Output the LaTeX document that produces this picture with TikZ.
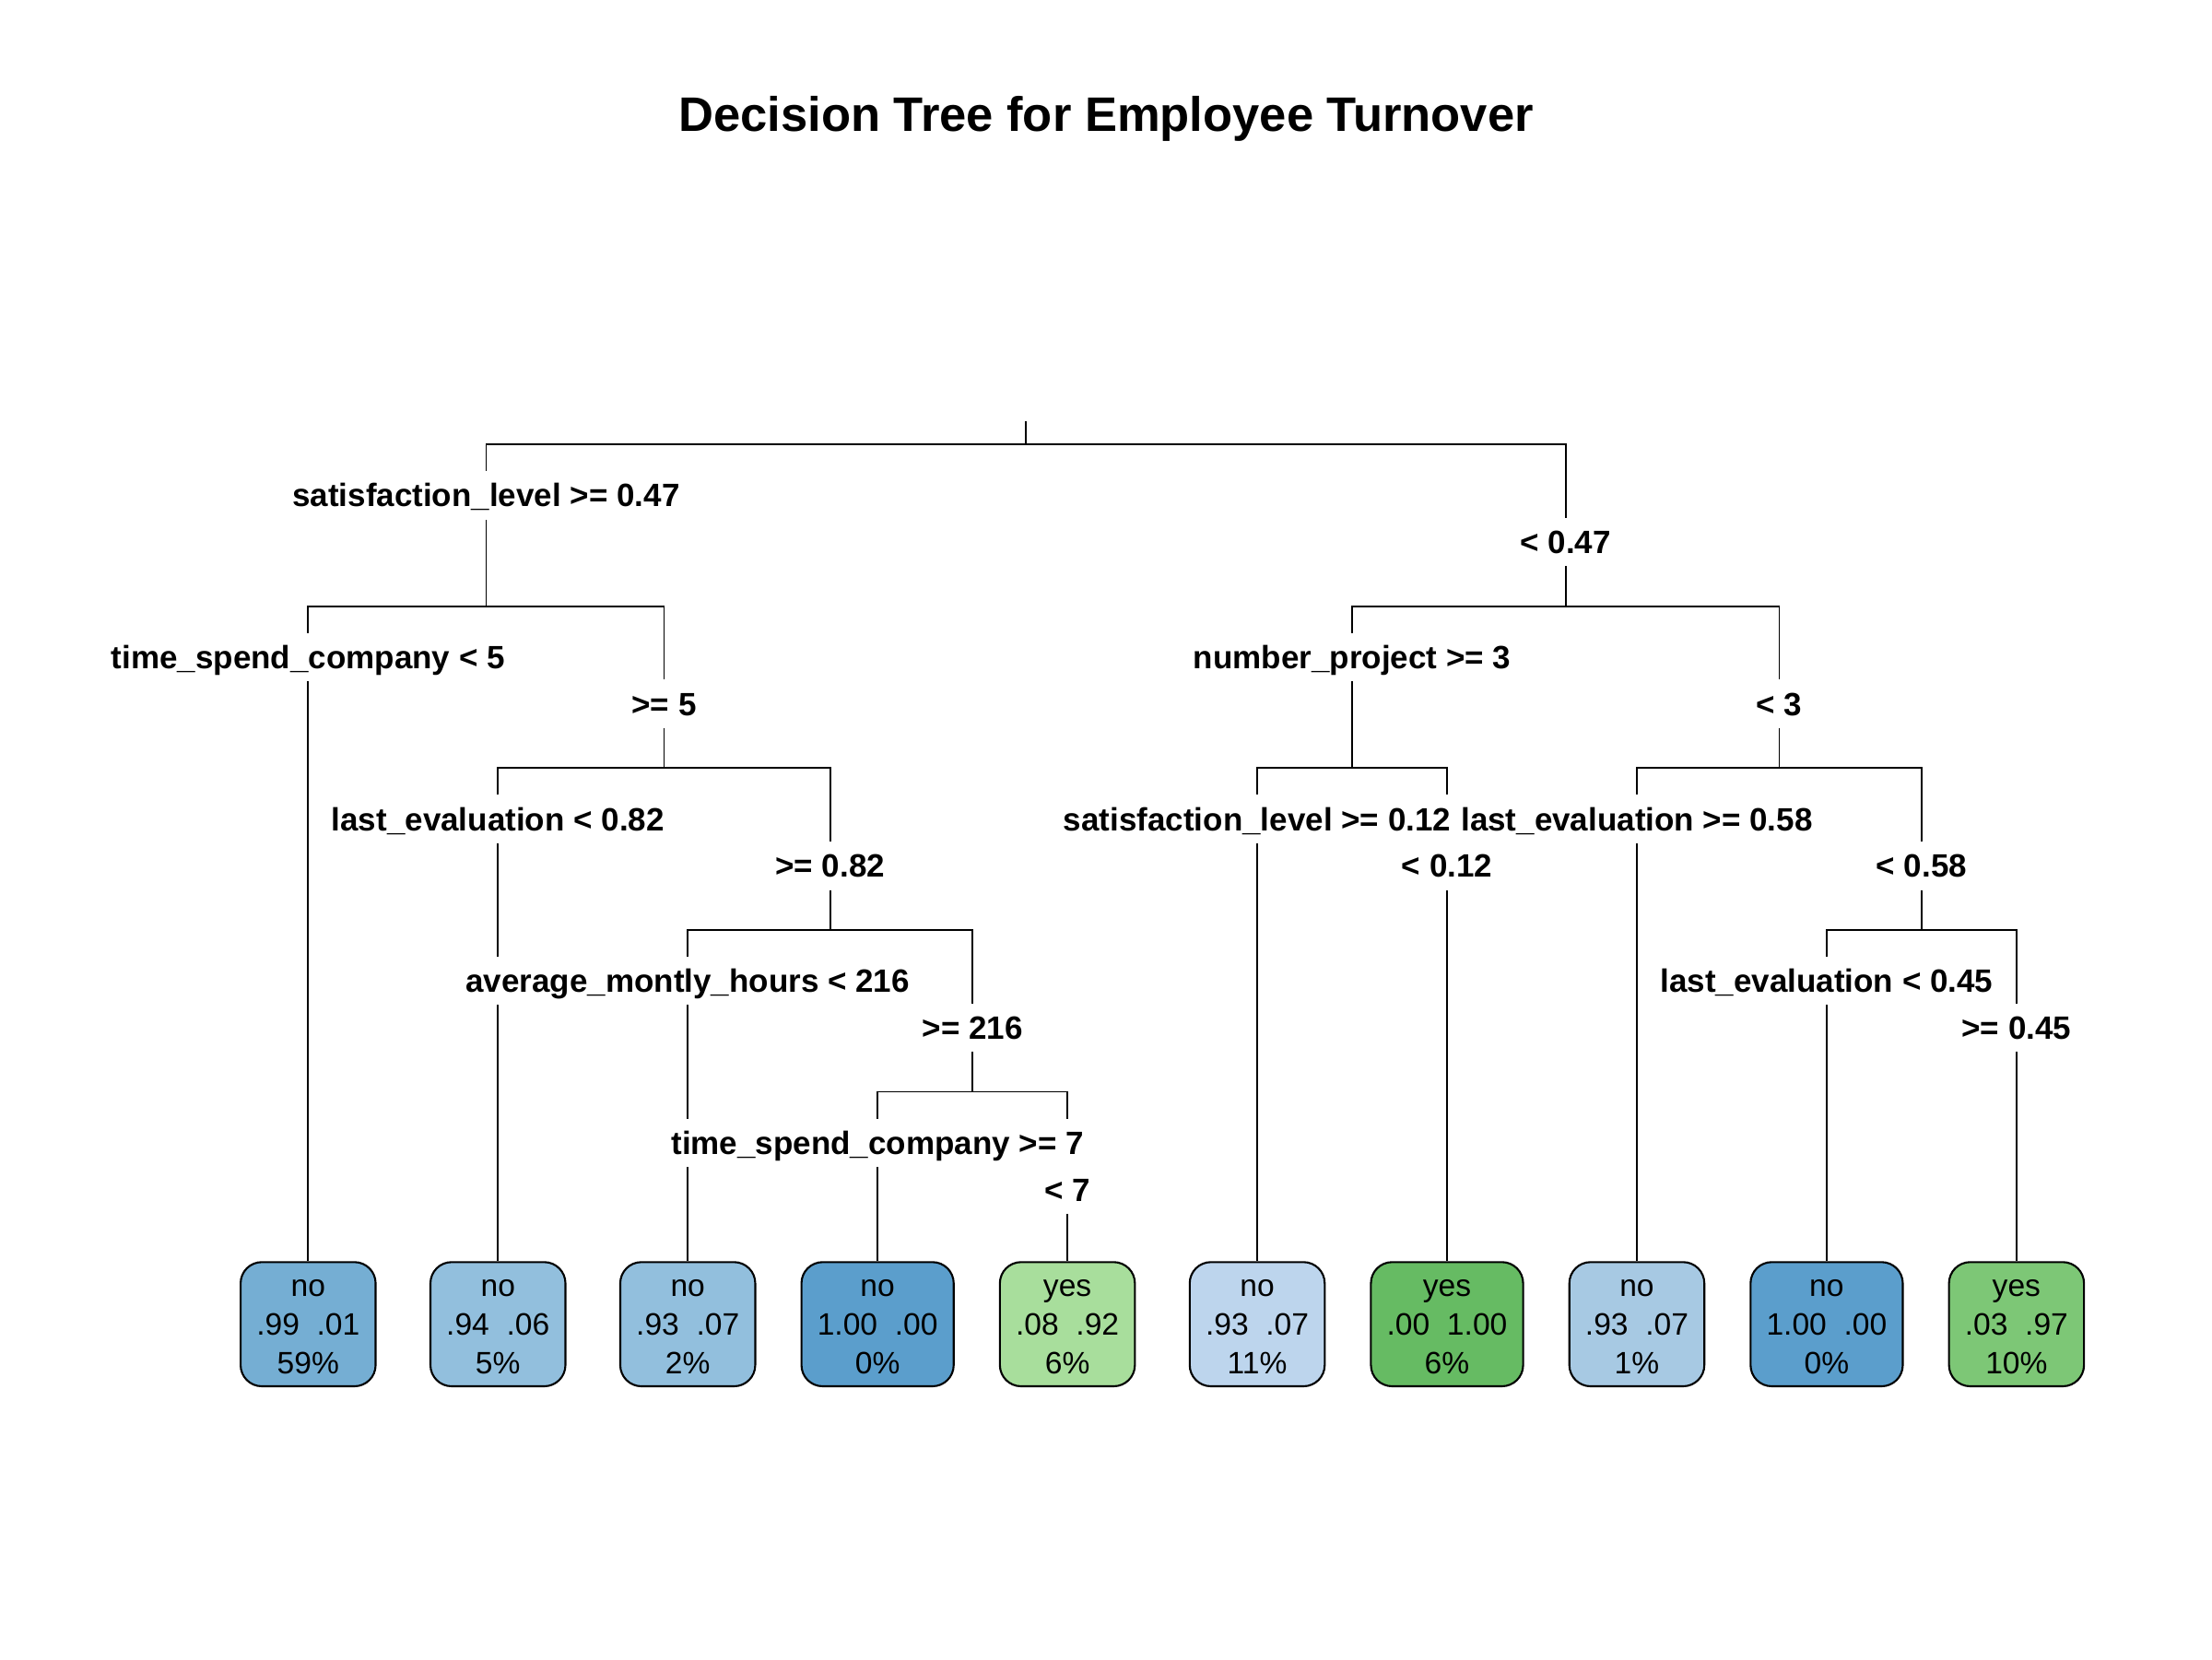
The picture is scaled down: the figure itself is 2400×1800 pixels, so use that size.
\documentclass[tikz,border=0pt]{standalone}
\usepackage{fontspec}
\setmainfont{Liberation Sans}
\pgfdeclarelayer{bg}
\pgfsetlayers{bg,main}
\definecolor{leafA}{HTML}{75AED3}
\definecolor{leafB}{HTML}{92BFDD}
\definecolor{leafC}{HTML}{92BFDD}
\definecolor{leafD}{HTML}{5B9ECC}
\definecolor{leafE}{HTML}{A8DE9C}
\definecolor{leafF}{HTML}{BDD5ED}
\definecolor{leafG}{HTML}{66BB63}
\definecolor{leafH}{HTML}{A7C9E3}
\definecolor{leafI}{HTML}{5B9ECC}
\definecolor{leafJ}{HTML}{7DC776}
\begin{document}
\begin{tikzpicture}[x=0.1mm,y=-0.1mm,
  edge/.style={line width=0.5pt, draw=black},
  lbl/.style={fill=white, font=\fontsize{9.96}{11}\selectfont\bfseries, inner xsep=0.3mm, inner ysep=1.37mm, text height=2.5mm, text depth=0mm},
  leaf/.style={draw=black, line width=0.6pt, rounded corners=2.3mm, align=center, font=\fontsize{9.56}{11.95}\selectfont, inner xsep=1.72mm, inner ysep=0mm, text height=12.14mm, text depth=1.33mm},
  ttl/.style={font=\fontsize{14.95}{17}\selectfont\bfseries, anchor=base, inner sep=0pt}]
\useasboundingbox (0,0) rectangle (2400,1800);
\node[ttl] (title) at (1200,142.3) {Decision Tree for Employee Turnover};

% junctions
\coordinate (top) at (1113.05,457);
\coordinate (j1) at (1113.05,482);
\coordinate (j2) at (527.4,657.65);
\coordinate (j3) at (1698.7,657.65);
\coordinate (j4) at (720.45,833.3);
\coordinate (j5) at (900.65,1008.95);
\coordinate (j6) at (1055.1,1184.6);
\coordinate (j7) at (1467.0,833.3);
\coordinate (j8) at (1930.4,833.3);
\coordinate (j9) at (2084.9,1008.95);

% leaves
\node[leaf, fill=leafA] (l0) at (334.3,1436.65) {no\\.99\ \ .01\\59\%};
\node[leaf, fill=leafB] (l1) at (540.25,1436.65) {no\\.94\ \ .06\\5\%};
\node[leaf, fill=leafC] (l2) at (746.2,1436.65) {no\\.93\ \ .07\\2\%};
\node[leaf, fill=leafD] (l3) at (952.15,1436.65) {no\\1.00\ \ .00\\0\%};
\node[leaf, fill=leafE] (l4) at (1158.1,1436.65) {yes\\.08\ \ .92\\6\%};
\node[leaf, fill=leafF] (l5) at (1364.05,1436.65) {no\\.93\ \ .07\\11\%};
\node[leaf, fill=leafG] (l6) at (1570.0,1436.65) {yes\\.00\ \ 1.00\\6\%};
\node[leaf, fill=leafH] (l7) at (1775.95,1436.65) {no\\.93\ \ .07\\1\%};
\node[leaf, fill=leafI] (l8) at (1981.9,1436.65) {no\\1.00\ \ .00\\0\%};
\node[leaf, fill=leafJ] (l9) at (2187.85,1436.65) {yes\\.03\ \ .97\\10\%};

% split labels
\node[lbl] (s1) at (527.4,537.3) {satisfaction\_level >= 0.47};
\node[lbl] (s1r) at (1698.7,588) {< 0.47};
\node[lbl] (s2) at (334.3,712.95) {time\_spend\_company < 5};
\node[lbl] (s2r) at (720.45,763.65) {>= 5};
\node[lbl] (s3) at (540.25,888.6) {last\_evaluation < 0.82};
\node[lbl] (s3r) at (900.65,939.3) {>= 0.82};
\node[lbl] (s4) at (746.2,1064.25) {average\_montly\_hours < 216};
\node[lbl] (s4r) at (1055.1,1114.95) {>= 216};
\node[lbl] (s5) at (952.15,1239.9) {time\_spend\_company >= 7};
\node[lbl] (s5r) at (1158.1,1290.6) {< 7};
\node[lbl] (s6) at (1467.0,712.95) {number\_project >= 3};
\node[lbl] (s6r) at (1930.4,763.65) {< 3};
\node[lbl] (s7) at (1364.05,888.6) {satisfaction\_level >= 0.12};
\node[lbl] (s7r) at (1570.0,939.3) {< 0.12};
\node[lbl] (s8) at (1775.95,888.6) {last\_evaluation >= 0.58};
\node[lbl] (s8r) at (2084.9,939.3) {< 0.58};
\node[lbl] (s9) at (1981.9,1064.25) {last\_evaluation < 0.45};
\node[lbl] (s9r) at (2187.85,1114.95) {>= 0.45};

\begin{pgfonlayer}{bg}
\draw[edge] (top) -- (j1);
\draw[edge] (j1) -| (j2);
\draw[edge] (j1) -| (j3);
\draw[edge] (j2) -| (l0.north);
\draw[edge] (j2) -| (j4);
\draw[edge] (j4) -| (l1.north);
\draw[edge] (j4) -| (j5);
\draw[edge] (j5) -| (l2.north);
\draw[edge] (j5) -| (j6);
\draw[edge] (j6) -| (l3.north);
\draw[edge] (j6) -| (l4.north);
\draw[edge] (j3) -| (j7);
\draw[edge] (j3) -| (j8);
\draw[edge] (j7) -| (l5.north);
\draw[edge] (j7) -| (l6.north);
\draw[edge] (j8) -| (l7.north);
\draw[edge] (j8) -| (j9);
\draw[edge] (j9) -| (l8.north);
\draw[edge] (j9) -| (l9.north);
\end{pgfonlayer}
\end{tikzpicture}
\end{document}
